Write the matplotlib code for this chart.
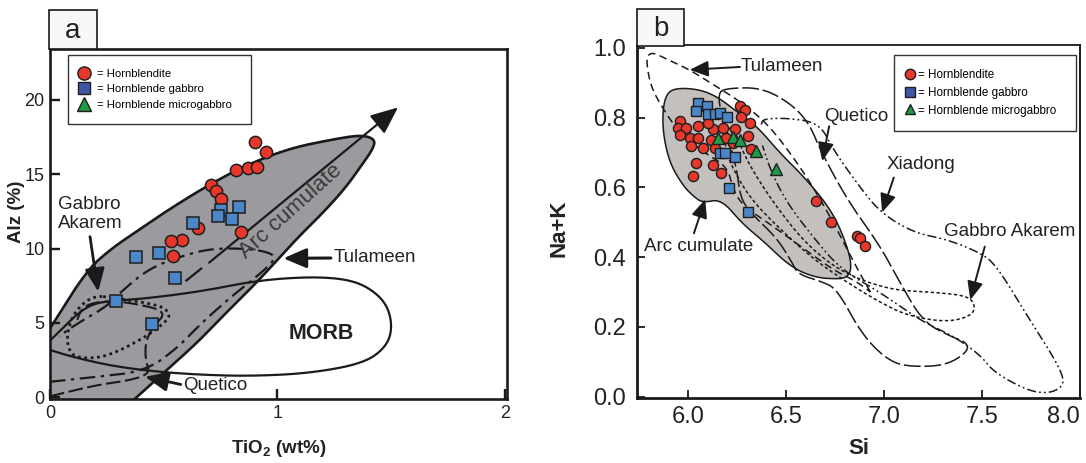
import matplotlib.pyplot as plt
import numpy as np
from matplotlib.lines import Line2D
from matplotlib.patches import Polygon, Rectangle

plt.rcParams['font.family'] = ['Liberation Sans', 'DejaVu Sans']
plt.rcParams['mathtext.fontset'] = 'custom'
plt.rcParams['mathtext.rm'] = 'Liberation Sans'
plt.rcParams['mathtext.bf'] = 'Liberation Sans:bold'

RED = '#e8372b'
BLUE = '#4a86c8'
KEY_BLUE = '#3f55a6'
GREEN = '#1f9a45'
EDGE = '#1e1e1e'
INK = '#1a1a1a'

# ---- (a) TiO2 (wt%) vs Alz (%) ----
hbl_ti = [0.90, 0.95, 0.82, 0.87, 0.91, 0.71, 0.73, 0.75, 0.84, 0.65, 0.58, 0.53, 0.54]
hbl_alz = [17.2, 16.5, 15.3, 15.4, 15.5, 14.3, 13.9, 13.3, 11.1, 11.4, 10.6, 10.5, 9.5]
gab_ti = [0.63, 0.75, 0.83, 0.74, 0.80, 0.38, 0.48, 0.55, 0.29, 0.45]
gab_alz = [11.7, 12.6, 12.8, 12.2, 12.0, 9.4, 9.7, 8.0, 6.5, 4.9]

a_arc_field = [(-0.02, 4.2), (0.0, 4.6), (0.16, 8.5), (0.27, 10.0), (0.396, 11.3),
               (0.52, 12.6), (0.689, 14.2), (0.86, 15.6), (1.055, 16.75), (1.245, 17.35),
               (1.37, 17.65), (1.43, 17.35), (1.42, 16.7), (1.37, 15.6), (1.30, 14.1),
               (1.20, 12.4), (1.10, 10.9), (1.01, 9.4), (0.908, 7.7), (0.776, 5.7),
               (0.66, 3.85), (0.52, 1.9), (0.381, 0.0), (0.36, -0.3)]
a_tulameen = [(0.0, 1.03), (0.2, 1.35), (0.42, 1.75), (0.56, 3.3), (0.66, 4.9),
              (0.80, 6.8), (0.9, 8.0), (1.0, 9.35), (0.953, 9.8), (0.85, 10.0),
              (0.717, 10.0), (0.6, 9.6), (0.44, 8.7), (0.32, 7.2), (0.25, 6.1),
              (0.125, 5.0), (0.04, 4.1)]
a_gabbro_akarem = [(0.19, 6.85), (0.29, 6.65), (0.42, 6.35), (0.50, 6.05), (0.53, 5.5),
                   (0.50, 4.95), (0.42, 4.05), (0.29, 3.0), (0.20, 2.6), (0.10, 2.7),
                   (0.075, 3.6), (0.08, 4.6), (0.11, 5.8)]
a_morb = [(0.0, 3.8), (0.06, 4.7), (0.12, 5.6), (0.19, 6.3), (0.29, 6.5), (0.40, 6.6),
          (0.66, 7.1), (0.91, 7.85), (1.14, 8.1), (1.30, 7.95), (1.40, 7.4), (1.48, 6.3),
          (1.506, 4.75), (1.48, 3.4), (1.38, 2.27), (1.14, 1.6), (0.88, 1.41), (0.66, 1.5),
          (0.46, 1.72), (0.27, 2.1), (0.10, 2.7), (0.0, 3.17)]
a_quetico = [(0.0, 0.05), (0.2, 0.8), (0.36, 1.15), (0.44, 1.6), (0.42, 2.5), (0.42, 3.6),
             (0.44, 4.4), (0.47, 5.0), (0.50, 5.5), (0.48, 5.9), (0.40, 6.2), (0.30, 6.45),
             (0.20, 6.4), (0.14, 6.0), (0.12, 5.2)]

# ---- (b) Si vs Na+K ----
b_hbl_si = [5.958, 5.949, 5.991, 5.958, 6.009, 6.051, 6.051, 6.077, 6.017, 6.119, 6.128,
            6.136, 6.102, 6.179, 6.195, 6.230, 6.238, 6.267, 6.289, 6.272, 6.315, 6.306,
            6.323, 6.042, 6.026, 6.128, 6.170, 6.655, 6.731, 6.861, 6.878, 6.903]
b_hbl_nak = [0.789, 0.770, 0.770, 0.751, 0.742, 0.742, 0.775, 0.713, 0.718, 0.737, 0.766,
             0.713, 0.785, 0.770, 0.742, 0.728, 0.766, 0.834, 0.821, 0.802, 0.785, 0.747,
             0.709, 0.671, 0.632, 0.663, 0.642, 0.561, 0.501, 0.461, 0.456, 0.432]
b_gab_si = [6.051, 6.097, 6.042, 6.102, 6.136, 6.165, 6.201, 6.165, 6.187, 6.238, 6.209, 6.306]
b_gab_nak = [0.842, 0.832, 0.818, 0.811, 0.811, 0.813, 0.802, 0.699, 0.697, 0.688, 0.597, 0.528]
b_mic_si = [6.153, 6.230, 6.267, 6.348, 6.447]
b_mic_nak = [0.742, 0.745, 0.737, 0.704, 0.653]

b_arc_field = [(5.898, 0.875), (5.958, 0.885), (6.06, 0.88), (6.144, 0.861), (6.22, 0.83),
               (6.30, 0.795), (6.366, 0.766), (6.468, 0.699), (6.604, 0.623), (6.74, 0.528),
               (6.818, 0.423), (6.835, 0.366), (6.81, 0.342), (6.767, 0.337), (6.65, 0.341),
               (6.525, 0.371), (6.384, 0.446), (6.277, 0.496), (6.17, 0.566), (6.077, 0.556),
               (6.034, 0.571), (5.975, 0.604), (5.906, 0.67), (5.872, 0.756), (5.872, 0.832)]
b_tulameen = [(6.93, 0.30), (6.86, 0.37), (6.76, 0.48), (6.64, 0.60), (6.52, 0.70),
              (6.40, 0.785), (6.264, 0.847), (6.144, 0.889), (6.009, 0.937), (5.90, 0.965),
              (5.83, 0.985), (5.80, 0.982), (5.787, 0.966), (5.805, 0.899), (5.85, 0.845),
              (5.95, 0.76), (6.08, 0.70), (6.20, 0.66), (6.23, 0.594), (6.28, 0.547),
              (6.43, 0.49), (6.60, 0.42), (6.75, 0.36), (6.86, 0.33), (6.93, 0.30)]
b_quetico = [(6.144, 0.871), (6.21, 0.885), (6.38, 0.885), (6.53, 0.838), (6.62, 0.781),
             (6.673, 0.709), (6.81, 0.566), (6.98, 0.432), (7.08, 0.328), (7.20, 0.213),
             (7.35, 0.17), (7.42, 0.156), (7.43, 0.13), (7.32, 0.09), (7.15, 0.085),
             (7.03, 0.099), (6.89, 0.175), (6.76, 0.309), (6.68, 0.33), (6.56, 0.351),
             (6.53, 0.386), (6.45, 0.457), (6.316, 0.528), (6.265, 0.575), (6.25, 0.651),
             (6.20, 0.75)]
b_xiadong = [(6.374, 0.78), (6.383, 0.796), (6.50, 0.799), (6.67, 0.785), (6.74, 0.709),
             (6.86, 0.613), (6.98, 0.528), (7.15, 0.47), (7.32, 0.451), (7.49, 0.413),
             (7.575, 0.375), (7.73, 0.232), (7.86, 0.118), (7.92, 0.051), (7.90, 0.023),
             (7.83, 0.009), (7.73, 0.018), (7.56, 0.07), (7.49, 0.12), (7.35, 0.175),
             (7.20, 0.213), (6.98, 0.299), (6.775, 0.366), (6.62, 0.47), (6.50, 0.56),
             (6.42, 0.65), (6.38, 0.72)]
b_gabbro_akarem = [(6.22, 0.79), (6.28, 0.70), (6.36, 0.62), (6.47, 0.53), (6.60, 0.44),
                   (6.75, 0.37), (6.90, 0.33), (7.06, 0.305), (7.23, 0.30), (7.42, 0.29),
                   (7.465, 0.265), (7.45, 0.232), (7.32, 0.213), (7.12, 0.232), (6.98, 0.27),
                   (6.81, 0.328), (6.64, 0.394), (6.47, 0.48), (6.33, 0.56), (6.24, 0.64),
                   (6.18, 0.72)]

KEY_LABELS = ['= Hornblendite', '= Hornblende gabbro', '= Hornblende microgabbro']


def chaikin(pts, closed=False, n=3):
    # corner-cutting so the field outlines come out as smooth curves
    p = np.asarray(pts, dtype=float)
    for _ in range(n):
        a = p if closed else p[:-1]
        b = np.roll(p, -1, axis=0) if closed else p[1:]
        q = np.empty((2 * len(a), 2))
        q[0::2] = 0.75 * a + 0.25 * b
        q[1::2] = 0.25 * a + 0.75 * b
        if not closed:
            q = np.vstack([p[0], q, p[-1]])
        p = q
    if closed:
        p = np.vstack([p, p[:1]])
    return p


def outline(ax, pts, closed=False, **kw):
    p = chaikin(pts, closed)
    ax.plot(p[:, 0], p[:, 1], color=INK, solid_capstyle='round', zorder=3, **kw)


def arrow(ax, tail, tip, lw, scale):
    ax.annotate('', xy=tip, xytext=tail,
                arrowprops=dict(arrowstyle='-|>,head_length=0.7,head_width=0.3', color=INK,
                                lw=lw, shrinkA=0, shrinkB=0, mutation_scale=scale),
                zorder=4)


def key_handles(ms, blue):
    return [Line2D([], [], marker='o', ls='none', mfc=RED, mec=EDGE, mew=1.0, ms=ms),
            Line2D([], [], marker='s', ls='none', mfc=blue, mec=EDGE, mew=1.0, ms=ms * 0.9),
            Line2D([], [], marker='^', ls='none', mfc=GREEN, mec=EDGE, mew=1.0, ms=ms)]


def add_key(ax, ms, anchor, fontsize, handlelength, handletextpad):
    leg = ax.legend(key_handles(ms, KEY_BLUE), KEY_LABELS, loc='upper left',
                    bbox_to_anchor=anchor, mode='expand', borderaxespad=0,
                    fontsize=fontsize, borderpad=1.2, labelspacing=0.5,
                    handlelength=handlelength, handletextpad=handletextpad,
                    fancybox=False, framealpha=1)
    leg.get_frame().set_edgecolor('#333333')
    leg.get_frame().set_linewidth(1.0)
    leg.set_zorder(10)


def panel_tag(fig, x0, y0, w, h, tag):
    W, H = 1086, 463
    fig.patches.append(Rectangle((x0 / W, 1 - (y0 + h) / H), w / W, h / H,
                                 transform=fig.transFigure, fc='#f8f8f8', ec=INK, lw=1.2))
    fig.text((x0 + w / 2) / W, 1 - (y0 + h / 2 + 1) / H, tag, ha='center', va='center',
             fontsize=20, color='#222222')


fig = plt.figure(figsize=(10.86, 4.63), dpi=100)
ax_a = fig.add_axes([0.0460, 0.1382, 0.4208, 0.7560])
ax_b = fig.add_axes([0.5866, 0.1404, 0.4079, 0.7624])

# ---------------- panel a ----------------
ax = ax_a
ax.set_xlim(0, 2.009)
ax.set_ylim(-0.13, 23.43)

field = chaikin(a_arc_field)
ax.add_patch(Polygon(np.vstack([field, [(-0.05, -0.3), (-0.05, 4.2)]]),
                     closed=True, fc='#9b9b9f', ec='none', zorder=1))
ax.plot(field[:, 0], field[:, 1], color=INK, lw=1.9, zorder=3)

outline(ax, a_morb, lw=1.6)
outline(ax, a_tulameen, lw=1.6, ls=(0, (7, 2.5, 1.5, 2.5)))
outline(ax, a_gabbro_akarem, closed=True, lw=2.0, ls=(0, (1.0, 1.3)))
outline(ax, a_quetico, lw=1.5, ls=(0, (7, 2.2)))

# arc cumulate trend
ax.plot([0.60, 0.665], [7.85, 8.65], color=INK, lw=1.6, zorder=3)
arrow(ax, (0.70, 9.05), (1.53, 19.5), lw=1.6, scale=24)
ax.text(1.06, 12.5, 'Arc cumulate', rotation=42, ha='center', va='center',
        fontsize=16, color='#3a3a3a', zorder=4)

ax.text(0.035, 12.35, 'Gabbro\nAkarem', ha='left', va='center', fontsize=13.5,
        linespacing=1.15, color='#222222')
arrow(ax, (0.176, 10.8), (0.212, 7.1), lw=2.0, scale=20)
ax.text(1.245, 9.4, 'Tulameen', ha='left', va='center', fontsize=13.5, color='#222222')
arrow(ax, (1.235, 9.36), (1.026, 9.34), lw=2.2, scale=20)
ax.text(0.585, 0.75, 'Quetico', ha='left', va='center', fontsize=13.5, color='#222222')
arrow(ax, (0.575, 0.85), (0.418, 1.37), lw=2.0, scale=20)
ax.text(1.194, 4.29, 'MORB', ha='center', va='center', fontsize=15.5,
        fontweight='bold', color='#222222')

ax.plot(hbl_ti, hbl_alz, 'o', ms=8.8, mfc=RED, mec=EDGE, mew=1.1, zorder=6)
ax.plot(gab_ti, gab_alz, 's', ms=9.2, mfc=BLUE, mec=EDGE, mew=1.1, zorder=7)

ax.set_xticks([0, 1, 2])
ax.set_xticklabels(['0', '1', '2'])
ax.set_yticks([0, 5, 10, 15, 20])
ax.set_yticklabels(['0', '5', '10', '15', '20'])
ax.tick_params(direction='in', length=7, width=1.7, labelsize=13, pad=4,
               color=INK, labelcolor='#222222')
for s in ax.spines.values():
    s.set_linewidth(1.9)
    s.set_color(INK)
ax.set_xlabel(r'TiO$_\mathbf{2}$ (wt%)', fontsize=13.5, fontweight='bold', color='#222222')
ax.xaxis.label.set_va('center')
ax.xaxis.set_label_coords(0.5, -0.14)
ax.set_ylabel('Alz (%)', fontsize=13.5, fontweight='bold', color='#222222')
ax.yaxis.label.set_va('center')
ax.yaxis.set_label_coords(-0.074, 0.534)

add_key(ax, 9.5, (0.0387, 0.0, 0.4005, 0.983), 8.2, 0.55, 0.84)

# ---------------- panel b ----------------
ax = ax_b
ax.set_xlim(5.74, 8.0)
ax.set_ylim(-0.004, 1.008)

field = chaikin(b_arc_field, closed=True)
ax.add_patch(Polygon(field, closed=True, fc='#c4c0bd', ec=INK, lw=1.1, zorder=1))

outline(ax, b_tulameen, lw=1.1, ls=(0, (5, 3)))
outline(ax, b_quetico, closed=True, lw=1.1, ls=(0, (11, 2.5)))
outline(ax, b_xiadong, lw=1.1, ls=(0, (6, 2, 1.2, 2, 1.2, 2)))
outline(ax, b_gabbro_akarem, closed=True, lw=1.1, ls=(0, (2.2, 1.6)))

ax.text(6.27, 0.947, 'Tulameen', ha='left', va='center', fontsize=13.5, color='#222222')
arrow(ax, (6.265, 0.945), (6.009, 0.937), lw=1.4, scale=16)
ax.text(6.86, 0.803, 'Quetico', ha='center', va='center', fontsize=13.5, color='#222222')
arrow(ax, (6.72, 0.775), (6.685, 0.675), lw=1.4, scale=16)
ax.text(7.19, 0.666, 'Xiadong', ha='center', va='center', fontsize=13.5, color='#222222')
arrow(ax, (7.05, 0.628), (6.99, 0.528), lw=1.4, scale=16)
ax.text(7.643, 0.474, 'Gabbro Akarem', ha='center', va='center', fontsize=13.5,
        color='#222222')
arrow(ax, (7.514, 0.43), (7.44, 0.277), lw=1.4, scale=16)
ax.text(5.776, 0.431, 'Arc cumulate', ha='left', va='center', fontsize=13.5,
        color='#222222')
arrow(ax, (6.03, 0.468), (6.088, 0.566), lw=1.4, scale=16)

ax.plot(b_hbl_si, b_hbl_nak, 'o', ms=7.3, mfc=RED, mec=EDGE, mew=1.0, zorder=6)
ax.plot(b_gab_si, b_gab_nak, 's', ms=7.0, mfc=BLUE, mec=EDGE, mew=1.0, zorder=7)
ax.plot(b_mic_si, b_mic_nak, '^', ms=8.0, mfc=GREEN, mec=EDGE, mew=1.0, zorder=8)

ax.set_xticks([6.0, 6.5, 7.0, 7.5, 8.0])
ax.set_xticklabels(['6.0', '6.5', '7.0', '7.5', '8.0'])
ax.get_xticklabels()[-1].set_horizontalalignment('right')
ax.set_yticks([0.0, 0.2, 0.4, 0.6, 0.8, 1.0])
ax.set_yticklabels(['0.0', '0.2', '0.4', '0.6', '0.8', '1.0'])
ax.tick_params(direction='in', length=6, width=1.3, labelsize=17, color=INK,
               labelcolor='#222222')
ax.tick_params(axis='x', pad=6)
ax.tick_params(axis='y', pad=8)
for side, lw in [('left', 2.0), ('bottom', 2.0), ('top', 1.3), ('right', 1.4)]:
    ax.spines[side].set_linewidth(lw)
    ax.spines[side].set_color(INK)
ax.set_xlabel('Si', fontsize=16, fontweight='bold', color='#222222')
ax.xaxis.label.set_va('center')
ax.xaxis.set_label_coords(0.5, -0.142)
ax.set_ylabel('Na+K', fontsize=16, fontweight='bold', color='#222222')
ax.yaxis.label.set_va('center')
ax.yaxis.set_label_coords(-0.176, 0.48)

add_key(ax, 7.5, (0.580, 0.0, 0.411, 0.972), 8.4, 0.3, 0.59)

panel_tag(fig, 49, 10, 48, 39, 'a')
panel_tag(fig, 637, 9, 47, 37, 'b')

fig.savefig('out.png', dpi=100)
